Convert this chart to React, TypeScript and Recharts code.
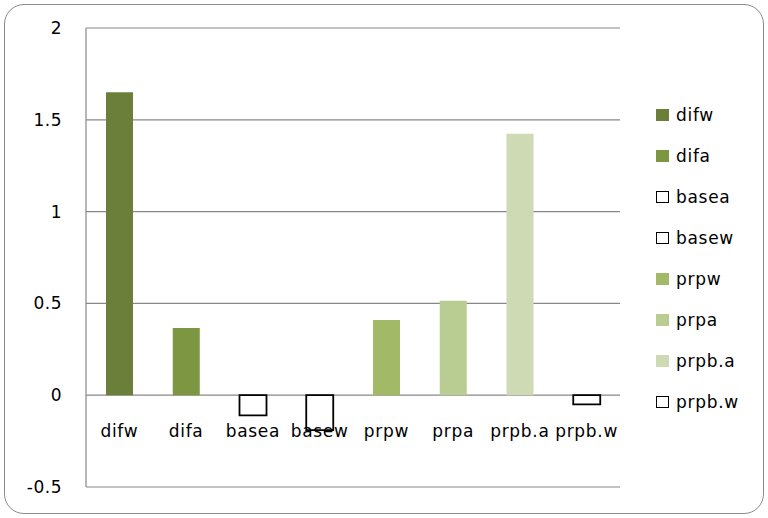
import { BarChart, Bar, Cell, XAxis, YAxis, CartesianGrid, Legend } from 'recharts';

const categories = ['difw', 'difa', 'basea', 'basew', 'prpw', 'prpa', 'prpb.a', 'prpb.w'];
const values = [1.65, 0.366, -0.11, -0.19, 0.41, 0.515, 1.424, -0.05];
const colors = ['#6b7f3a', '#7d9642', null, null, '#a2ba68', '#b9cc91', '#cddab4', null];
const yTicks = [-0.5, 0, 0.5, 1, 1.5, 2];

const data = categories.map((name, i) => ({ name, value: values[i] }));

const FONT = '"DejaVu Sans", Verdana, sans-serif';

// labels sit just under the zero line, not at the bottom of the plot
const XTick = ({ x, y, payload }: any) => (
  <text
    x={x}
    y={y - 50}
    textAnchor="middle"
    fontSize={17}
    letterSpacing={0.7}
    fontFamily={FONT}
    fill="#000"
  >
    {payload.value}
  </text>
);

const renderLegend = () => (
  <div style={{ fontFamily: FONT, fontSize: 17, letterSpacing: 0.7, color: '#000', textAlign: 'left' }}>
    {categories.map((name, i) => (
      <div key={name} style={{ display: 'flex', alignItems: 'center', height: 41 }}>
        <span
          style={{
            display: 'inline-block',
            boxSizing: 'border-box',
            width: 13,
            height: 12,
            background: colors[i] ?? '#fff',
            border: colors[i] ? 'none' : '1.5px solid #000',
            marginRight: 7,
          }}
        />
        {name}
      </div>
    ))}
  </div>
);

const App = () => {
  return (
    <div style={{ position: 'absolute', left: 0, top: 0, width: 768, height: 518, background: '#fff' }}>
      <div
        style={{
          position: 'absolute',
          left: 4,
          top: 4,
          width: 758,
          height: 508,
          border: '1.5px solid #8a8a8a',
          borderRadius: 20,
        }}
      />
      <BarChart
        width={768}
        height={518}
        data={data}
        margin={{ top: 28, right: 148, bottom: 1, left: 0 }}
      >
        <CartesianGrid vertical={false} stroke="#888" strokeWidth={1.2} />
        <XAxis
          dataKey="name"
          axisLine={false}
          tickLine={false}
          tickSize={0}
          tickMargin={0}
          height={30}
          tick={<XTick />}
          interval={0}
        />
        <YAxis
          domain={[-0.5, 2]}
          ticks={yTicks}
          width={86}
          axisLine={{ stroke: '#888', strokeWidth: 1.2 }}
          tickLine={false}
          tickMargin={18}
          tick={{ fontSize: 17, fontFamily: FONT, fill: '#000', letterSpacing: 0.5 }}
        />
        <Legend
          layout="horizontal"
          align="center"
          verticalAlign="middle"
          content={renderLegend}
          wrapperStyle={{ left: 656, top: 94, width: 110 }}
        />
        <Bar dataKey="value" barSize={27} isAnimationActive={false}>
          {data.map((d, i) => (
            <Cell
              key={d.name}
              fill={colors[i] ?? '#fff'}
              stroke={colors[i] ? 'none' : '#000'}
              strokeWidth={colors[i] ? 0 : 1.8}
            />
          ))}
        </Bar>
      </BarChart>
    </div>
  );
};

export default App;
